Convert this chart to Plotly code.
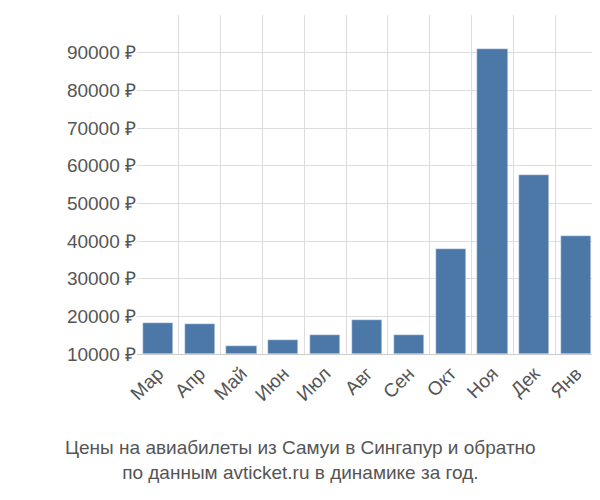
import plotly.graph_objects as go

months = ["Мар", "Апр", "Май", "Июн", "Июл", "Авг", "Сен", "Окт", "Ноя", "Дек", "Янв"]
prices = [18200, 18000, 12100, 13700, 15000, 19000, 15000, 37800, 91000, 57400, 41200]
y_ticks = [10000, 20000, 30000, 40000, 50000, 60000, 70000, 80000, 90000, 100000]

positions = list(range(len(months)))

fig = go.Figure(go.Bar(
    x=positions, y=[p - 10000 for p in prices], base=10000,
    marker_color="#4c78a8", width=0.72,
))

fig.update_layout(
    width=600, height=500,
    plot_bgcolor="white", paper_bgcolor="white",
    margin=dict(l=129, r=11, t=7, b=154, autoexpand=False),
    font=dict(family="Liberation Sans, Arial", size=19, color="#555"),
    showlegend=False,
    bargap=0,
)
fig.update_xaxes(
    tickvals=positions, ticktext=months, tickangle=-45,
    range=[-0.5, len(months) - 0.5], showgrid=False,
    minor=dict(tickvals=[i - 0.5 for i in range(len(months) + 1)], showgrid=True, gridcolor="#ddd"),
    showline=True, linecolor="#ccc",
)
fig.update_yaxes(
    range=[10000, 100000], tickvals=y_ticks,
    ticktext=[f"{v} ₽" for v in y_ticks],
    gridcolor="#ddd", zeroline=False,
)
fig.add_annotation(
    text="Цены на авиабилеты из Самуи в Сингапур и обратно<br>по данным avticket.ru в динамике за год.",
    xref="paper", yref="paper", x=0.5, y=-0.24, xanchor="center", yanchor="top",
    xshift=-67, showarrow=False, font=dict(size=19, color="#555"),
)

fig.write_html("out.html")
